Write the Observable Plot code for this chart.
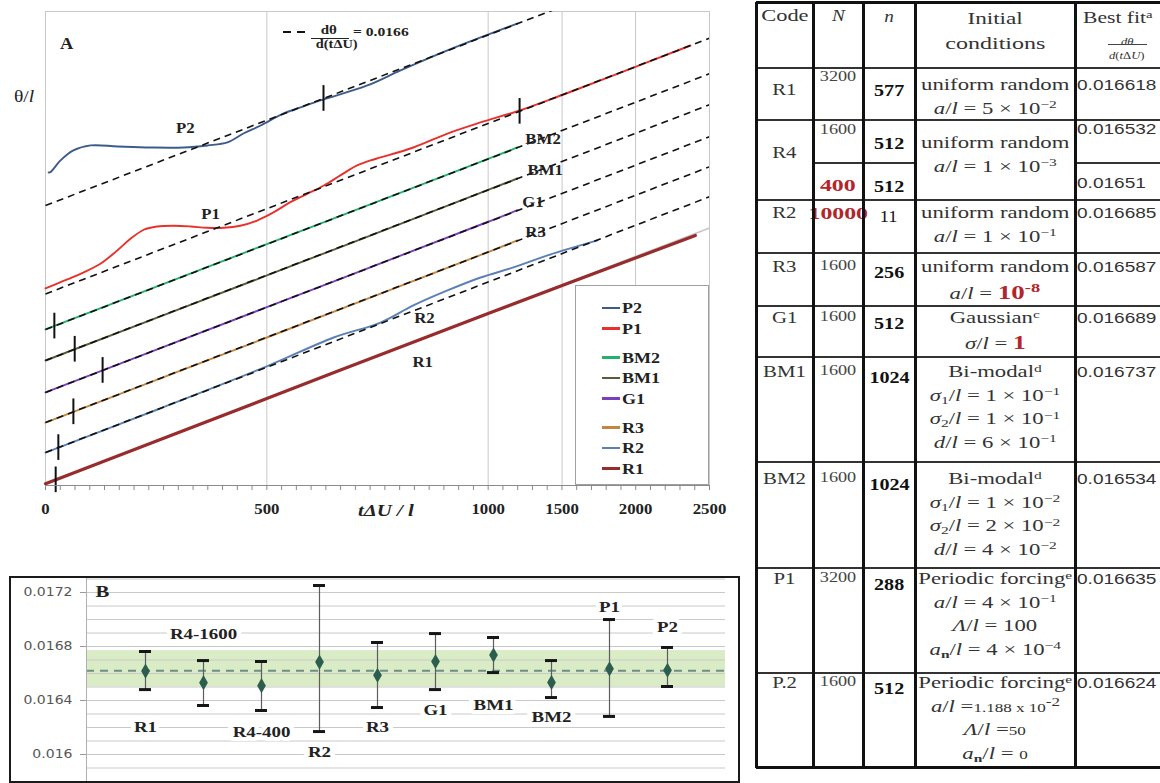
<!DOCTYPE html>
<html>
<head>
<meta charset="utf-8">
<script src="https://cdn.jsdelivr.net/npm/d3@7"></script>
<script src="https://cdn.jsdelivr.net/npm/@observablehq/plot@0.6"></script>
<style>
  body { margin: 0; background: #fff; }
  #fig { position: relative; width: 1160px; height: 783px; overflow: hidden;
         font-family: "Liberation Serif", serif; color: #222; background: #fff; }
  .abs { position: absolute; }
  #panelA { position: absolute; left: 0; top: 0; width: 720px; height: 520px; }
  #panelB { position: absolute; left: 9px; top: 576px; width: 731px; height: 207px;
            border: 2px solid #1a1a1a; box-sizing: border-box; background: #fff; }
  #panelA g[aria-label="x-axis tick label"] { font-size: 14px; font-weight: bold; }
  #panelB g[aria-label="y-axis tick label"] { font-family: "DejaVu Sans", sans-serif; font-size: 11.5px; fill: #555; }
  sup { font-size: 68%; line-height: 0; position: relative; top: -0.48em; vertical-align: baseline; }
  sub { font-size: 68%; line-height: 0; position: relative; top: 0.3em; vertical-align: baseline; }
  .red { color: #b3252a; font-weight: bold; }
</style>
</head>
<body>
<div id="fig">
  <div id="panelA"></div>
  <div id="panelB"></div>
</div>
<script>
// ---------------- Panel A: θ/l against tΔU/l ----------------
const seriesCodes  = ["P2", "P1", "BM2", "BM1", "G1", "R3", "R2", "R1"];
const seriesColors = ["#3d5c8a", "#e8312b", "#22b26b", "#5c5a38", "#7a3fbf", "#c5843f", "#5a80b5", "#982c2c"];
const fitSlope = 0.0166;                                   // dθ/d(tΔU)
const fitIntercept = [27.26, 18.65, 15.19, 12.17, 9.06, 6.13, 3.21, 0.17];
const onsetTime  = [628, 1071, 20, 66, 129, 63, 29, 23];   // start of the linear regime
const labelTime  = [316, 373, 1084, 1089, 1077, 1084, 856, 852];
const labelTheta = [34.76, 26.4, 33.69, 30.67, 27.56, 24.63, 16.26, 11.98];

// measured traces: [tΔU/l, θ/l]
const traceP2 = [[7,30.48],[11,30.51],[34,31.65],[63,32.62],[102,33.11],[163,33.01],[237,32.91],[312,32.91],[366,33.11],[411,33.40],[447,34.27],[486,35.05],[538,36.22],[576,36.81],[621,37.49],[727,38.95],[802,40.41],[908,42.36],[983,43.62],[1066,44.98]];
const traceP1 = [[0,19.2],[34,19.80],[79,20.61],[124,21.59],[162,22.88],[192,24.02],[222,24.90],[252,25.22],[290,25.29],[328,25.22],[365,25.09],[403,25.09],[440,25.29],[478,25.80],[516,26.61],[553,27.59],[591,28.40],[629,29.21],[666,30.19],[704,31.16],[734,31.65],[757,31.94],[831,32.91],[908,34.27],[983,35.35],[1071,36.51],[1170,38.07],[1283,39.92],[1457,42.84]];
const traceBM2 = [[0,15.19],[500,23.5],[1000,31.8],[1066,32.91]];
const traceBM1 = [[0,12.17],[500,20.45],[1000,28.78],[1066,29.89]];
const traceG1  = [[0,9.06],[500,17.36],[1000,25.68],[1066,26.8]];
const traceR3  = [[0,6.13],[500,14.41],[1000,22.73],[1066,23.86]];
const traceR2  = [[0,3.21],[250,7.35],[500,11.6],[651,14.41],[757,15.87],[831,17.53],[908,18.99],[983,20.25],[1057,21.23],[1134,22.40],[1247,23.86]];
const traceR1  = [[0,0.17],[500,8.47],[1000,16.75],[1468,24.34]];

const xTickAt     = [0, 500, 1000, 1167, 1333, 1500];
const xTickLabels = ["0", "500", "1000", "1500", "2000", "2500"];
const legendGroups = [["P2", "P1"], ["BM2", "BM1", "G1"], ["R3", "R2", "R1"]];

// ---------------- Panel B: best-fit slopes ----------------
const fitCodes = ["R1", "R4-1600", "R4-400", "R2", "R3", "G1", "BM1", "BM2", "P1", "P2"];
const bestFit  = [0.016618, 0.016532, 0.01651, 0.016685, 0.016587, 0.016689, 0.016737, 0.016534, 0.016635, 0.016624];
const fitHigh  = [0.016763, 0.016696, 0.016689, 0.017252, 0.01683, 0.016896, 0.016867, 0.016696, 0.017, 0.016793];
const fitLow   = [0.016481, 0.016363, 0.016326, 0.01617, 0.016348, 0.016481, 0.016607, 0.016422, 0.016282, 0.016504];
const fitLabelAt = [0.016207, 0.016889, 0.01617, 0.016015, 0.0162, 0.016333, 0.016363, 0.016281, 0.017089, 0.016941];
const meanFit = 0.01662;
const bandLow = 0.0165, bandHigh = 0.01677;
const bTicks = [0.016, 0.0164, 0.0168, 0.0172];

// ---------------- Table ----------------
const tableCode = ["R1", "R4", "R4", "R2", "R3", "G1", "BM1", "BM2", "P1", "P.2"];
const tableN    = [3200, 1600, 400, 10000, 1600, 1600, 1600, 1600, 3200, 1600];
const tableSmallN = [577, 512, 512, 11, 256, 512, 1024, 1024, 288, 512];
const tableConditions = [
  ["uniform random", "<i>a</i>/<i>l</i> = 5 × 10<sup>−2</sup>"],
  ["uniform random", "<i>a</i>/<i>l</i> = 1 × 10<sup>−3</sup>"],
  ["uniform random", "<i>a</i>/<i>l</i> = 1 × 10<sup>−1</sup>"],
  ["uniform random", "<i>a</i>/<i>l</i> = <span class='red' style='font-size:19px'>10<sup>-8</sup></span>"],
  ["Gaussian<sup>c</sup>", "<i>σ</i>/<i>l</i> = <span class='red' style='font-size:18px'>1</span>"],
  ["Bi-modal<sup>d</sup>", "<i>σ</i><sub>1</sub>/<i>l</i> = 1 × 10<sup>−1</sup>", "<i>σ</i><sub>2</sub>/<i>l</i> = 1 × 10<sup>−1</sup>", "<i>d</i>/<i>l</i> = 6 × 10<sup>−1</sup>"],
  ["Bi-modal<sup>d</sup>", "<i>σ</i><sub>1</sub>/<i>l</i> = 1 × 10<sup>−2</sup>", "<i>σ</i><sub>2</sub>/<i>l</i> = 2 × 10<sup>−2</sup>", "<i>d</i>/<i>l</i> = 4 × 10<sup>−2</sup>"],
  ["Periodic forcing<sup>e</sup>", "<i>a</i>/<i>l</i> = 4 × 10<sup>−1</sup>", "<i>Λ</i>/<i>l</i> = 100", "<i>a</i><sub><b>n</b></sub>/<i>l</i> = 4 × 10<sup>−4</sup>"],
  ["Periodic forcing<sup>e</sup>", "<i>a</i>/<i>l</i> =<span style='font-size:12px'>1.188 x 10<sup style='font-size:100%'>-2</sup></span>", "<i>Λ</i>/<i>l</i> =<span style='font-size:12px'>50</span>", "<i>a</i><sub><b>n</b></sub>/<i>l</i> = <span style='font-size:12px'>0</span>"]
];
const highlightedN = new Set([400, 10000]);

// ======================================================================
const fig = document.getElementById("fig");

// stretch Plot text horizontally about its own anchor
function widenText(svg, sx) {
  svg.querySelectorAll("text").forEach(t => {
    const tr = t.getAttribute("transform");
    if (tr) t.setAttribute("transform", tr + ` scale(${sx},1)`);
  });
}

// ---------- Panel A ----------
const traces = {P2: traceP2, P1: traceP1, BM2: traceBM2, BM1: traceBM1, G1: traceG1, R3: traceR3, R2: traceR2, R1: traceR1};
const series = seriesCodes.map((code, i) => ({
  code, color: seriesColors[i], b: fitIntercept[i], onset: onsetTime[i],
  lt: labelTime[i], lv: labelTheta[i], trace: traces[code], end: traces[code][traces[code].length - 1][0]
}));
const tMax = 1500;
const fitAt = (s, t) => s.b + fitSlope * t;
const xLabelOf = new Map(xTickAt.map((t, i) => [t, xTickLabels[i]]));
const minorTicks = d3.range(0, 46).map(i => i * tMax / 45);

const plotA = Plot.plot({
  width: 720, height: 520,
  marginLeft: 45, marginRight: 11, marginTop: 11, marginBottom: 35,
  style: {fontFamily: "Liberation Serif", background: "#fff", overflow: "visible"},
  x: {domain: [0, tMax]},
  y: {domain: [0, 46.15], axis: null},
  marks: [
    Plot.gridX(xTickAt.slice(1, -1), {stroke: "#c8c8c8", strokeOpacity: 1}),
    Plot.frame({stroke: "#c8c8c8"}),
    Plot.link(series.filter(s => s.code === "R1"), {
      x1: () => 0, y1: s => s.b, x2: () => tMax, y2: s => fitAt(s, tMax),
      stroke: "#c6c6c6", strokeWidth: 1.6
    }),
    ...series.slice().reverse().map(s => Plot.line(s.trace, {
      x: d => d[0], y: d => d[1], stroke: s.color,
      strokeWidth: s.code === "R1" ? 3.2 : 1.9, curve: "catmull-rom"
    })),
    Plot.link(series.filter(s => s.code !== "R1"), {
      x1: () => 0, y1: s => s.b, x2: () => tMax, y2: s => fitAt(s, tMax),
      stroke: "#111", strokeWidth: 1.6, strokeDasharray: "7,5", clip: true
    }),
    Plot.ruleX(series, {
      x: "onset", y1: s => fitAt(s, s.onset) - 1.25, y2: s => fitAt(s, s.onset) + 1.25,
      stroke: "#111", strokeWidth: 2
    }),
    Plot.ruleY([0], {stroke: "#8a8a8a"}),
    Plot.axisX({ticks: minorTicks, tickSize: 5, tickFormat: () => "", stroke: "#8a8a8a", label: null}),
    Plot.axisX({ticks: xTickAt, tickFormat: d => xLabelOf.get(d), tickSize: 0, tickPadding: 19,
                fontSize: 14, fontWeight: "bold", label: null}),
    Plot.text(series.filter(s => s.lt < s.end), {
      x: "lt", y: "lv", text: "code", fontSize: 14, fontWeight: "bold", fill: "#222"
    }),
    Plot.text(series.filter(s => s.lt >= s.end), {
      x: "lt", y: "lv", text: "code", textAnchor: "start", fontSize: 14, fontWeight: "bold", fill: "#222"
    })
  ]
});
widenText(plotA, 1.2);
document.getElementById("panelA").appendChild(plotA);

// generic positioned text (left edge or centre); cy is the visual centre of the glyphs
function put(html, o) {
  const lh = o.lh ?? 24;
  const cy = o.cy + 4;
  const d = document.createElement("div");
  d.className = "abs";
  const x0 = o.x0, w = (o.x1 ?? o.x0) - o.x0;
  d.style.cssText = `left:${x0}px;width:${w}px;top:${cy - lh / 2}px;height:${lh}px;line-height:${lh}px;` +
    `display:flex;justify-content:${o.left ? "flex-start" : "center"};white-space:nowrap;`;
  const s = document.createElement("span");
  s.innerHTML = html;
  s.style.cssText = `display:inline-block;transform:scaleX(${o.sx ?? 1});transform-origin:${o.left ? "0" : "50%"} 50%;` +
    `font:${o.font};color:${o.color ?? "#222"};`;
  d.appendChild(s);
  fig.appendChild(d);
  return d;
}
function box(x, y, w, h, css) {
  const d = document.createElement("div");
  d.className = "abs";
  d.style.cssText = `left:${x}px;top:${y}px;width:${w}px;height:${h}px;${css}`;
  fig.appendChild(d);
  return d;
}

// panel A annotations
put("A", {x0: 60, cy: 43, left: true, font: "bold 16px 'Liberation Serif'", sx: 1.15});
put("θ/<i>l</i>", {x0: 14, cy: 95, left: true, font: "17px 'Liberation Serif'", sx: 1.15});
put("<i>t</i><i>Δ</i><i>U</i> / <i>l</i>", {x0: 358, cy: 510, left: true, font: "bold italic 16px 'Liberation Serif'", sx: 1.3});
// slope key
const key = box(283, 30, 24, 4, "");
key.innerHTML = `<svg width="24" height="4" style="display:block"><line x1="0" y1="2" x2="23" y2="2" stroke="#111" stroke-width="2.2" stroke-dasharray="8,6"/></svg>`;
put("dθ", {x0: 310, x1: 348, cy: 31, font: "bold 12.5px 'Liberation Serif'", sx: 1.2});
box(311, 38, 38, 1, "background:#222;");
put("d(tΔU)", {x0: 308, x1: 365, cy: 46, font: "bold 11.5px 'Liberation Serif'", sx: 1.25});
put("= " + fitSlope, {x0: 353, cy: 32, left: true, font: "bold 13px 'Liberation Serif'", sx: 1.2});

// legend
const colorOf = new Map(seriesCodes.map((c, i) => [c, seriesColors[i]]));
box(575, 285, 134, 200, "border:1px solid #a0a0a0;background:#fff;box-sizing:border-box;");
{
  let cy = 308;
  legendGroups.forEach((g, gi) => {
    if (gi > 0) cy += 8.5;
    g.forEach(code => {
      box(602, cy - 1.3, 18, 2.6, `background:${colorOf.get(code)};`);
      put(code, {x0: 622, cy, left: true, font: "bold 15px 'Liberation Serif'", sx: 1.2});
      cy += 20.5;
    });
  });
}

// ---------- Panel B ----------
const points = fitCodes.map((code, i) => ({code, fit: bestFit[i], hi: fitHigh[i], lo: fitLow[i], at: fitLabelAt[i]}));
const gridVals = d3.range(159, 174).map(k => k / 10000);
const plotB = Plot.plot({
  width: 727, height: 203,
  marginLeft: 75, marginRight: 13, marginTop: 0, marginBottom: 0,
  style: {fontFamily: "Liberation Serif", background: "#fff", overflow: "visible"},
  x: {type: "band", domain: fitCodes, paddingInner: 0, paddingOuter: 0.5, axis: null},
  y: {domain: [0.0158, 0.017304]},
  marks: [
    Plot.rect([{lo: bandLow, hi: bandHigh}], {y1: "lo", y2: "hi", fill: "#d9ecc6"}),
    Plot.gridY(gridVals, {stroke: "#c9c9c9", strokeOpacity: 1}),
    Plot.ruleY([meanFit], {stroke: "#6d8d85", strokeWidth: 2, strokeDasharray: "8,6"}),
    Plot.axisY({ticks: bTicks, tickSize: 6, tickPadding: 8, tickFormat: d => String(d), stroke: "#999", label: null}),
    Plot.ruleX(points, {x: "code", y1: "lo", y2: "hi", stroke: "#5d5d5d", strokeWidth: 1.2}),
    Plot.tickY(points, {x: "code", y: "hi", stroke: "#161616", strokeWidth: 3, insetLeft: 23, insetRight: 23}),
    Plot.tickY(points, {x: "code", y: "lo", stroke: "#161616", strokeWidth: 3, insetLeft: 23, insetRight: 23}),
    Plot.dot(points, {x: "code", y: "fit", symbol: "diamond", r: 4.6, fill: "#2d5d4f", stroke: "none"}),
    Plot.text(points, {x: "code", y: "at", text: "code", fontSize: 15.5, fontWeight: "bold", fill: "#222",
                       stroke: "#fff", strokeWidth: 8, paintOrder: "stroke"}),
    Plot.text(["B"], {frameAnchor: "top-left", textAnchor: "start", lineAnchor: "top", dx: 9, dy: 6,
                      fontSize: 17, fontWeight: "bold", fill: "#222"})
  ]
});
widenText(plotB, 1.22);
const pb = document.getElementById("panelB");
pb.appendChild(plotB);
const axisLine = document.createElement("div");
axisLine.style.cssText = "position:absolute;left:75px;top:0;width:1px;height:203px;background:#b0b0b0;";
pb.appendChild(axisLine);

// ---------- Table ----------
const colX = [756, 813, 863, 915, 1075, 1160];
const blockTop = [68, 120, 200, 253, 306, 357, 462, 568, 673];
const tableBottom = 767;
const firstLineY = [84, 142, 212, 266, 317, 371, 478, 578, 682];
const lineStep = 23.5;
const serif = "'Liberation Serif'";

// header
put("Code", {x0: colX[0], x1: colX[1], cy: 15, font: `16px ${serif}`, sx: 1.4, color: "#333"});
put("<i>N</i>", {x0: colX[1], x1: colX[2], cy: 15, font: `16px ${serif}`, sx: 1.2, color: "#333"});
put("<i>n</i>", {x0: colX[2], x1: colX[3], cy: 16, font: `16px ${serif}`, sx: 1.2, color: "#333"});
put("Initial", {x0: colX[3], x1: colX[4], cy: 18, font: `16px ${serif}`, sx: 1.45, color: "#333"});
put("conditions", {x0: colX[3], x1: colX[4], cy: 43, font: `16px ${serif}`, sx: 1.5, color: "#333"});
put("Best fit<sup>a</sup>", {x0: colX[4], x1: colX[5], cy: 17, font: `16px ${serif}`, sx: 1.35, color: "#333"});
put("<i>dθ</i>", {x0: 1100, x1: 1154, cy: 38, lh: 12, font: `10.5px ${serif}`, sx: 1.2, color: "#333"});
box(1108, 44, 39, 1, "background:#444;");
put("<i>d</i>(<i>t</i>Δ<i>U</i>)", {x0: 1100, x1: 1154, cy: 52, lh: 12, font: `10.5px ${serif}`, sx: 1.2, color: "#333"});

// rows
let r = 0;
blockTop.forEach((top, bi) => {
  const y0 = firstLineY[bi];
  const isSplit = bi === 1;
  const codeY = isSplit ? 152 : (bi === 0 ? 89 : y0);
  put(tableCode[r], {x0: colX[0], x1: colX[1], cy: codeY, font: `16px ${serif}`, sx: 1.3, color: "#333"});
  tableConditions[bi].forEach((html, k) => {
    put(html, {x0: colX[3], x1: colX[4], cy: y0 + k * lineStep, font: `16px ${serif}`, sx: 1.42, color: "#333"});
  });
  const subRowsY = isSplit ? [[130, 141, 129], [184, 184, 183]] : [[bi === 0 ? 77 : y0, y0 + 4, y0 + 1]];
  subRowsY.forEach(([nY, smallY, fitY]) => {
    const Nv = tableN[r];
    if (highlightedN.has(Nv)) {
      put(String(Nv), {x0: colX[1], x1: colX[2], cy: nY, font: `bold 17px ${serif}`, sx: 1.4, color: "#b3252a"});
    } else {
      put(String(Nv), {x0: colX[1], x1: colX[2], cy: nY, font: `14px ${serif}`, sx: 1.3, color: "#444"});
    }
    const nv = tableSmallN[r];
    put(String(nv), {x0: colX[2], x1: colX[3], cy: smallY,
                     font: nv >= 100 ? `bold 17.5px ${serif}` : `16px ${serif}`, sx: 1.15, color: "#111"});
    put(String(bestFit[r]), {x0: colX[4] + 2, cy: fitY, left: true, font: "14px 'Liberation Sans'", sx: 1.36, color: "#333"});
    r++;
  });
});

// grid lines of the table
const edgeTop = 2;
box(colX[0], edgeTop - 1, colX[5] - colX[0], 2.5, "background:#111;");
[68, ...blockTop.slice(1)].forEach(y => box(colX[0], y - 1, colX[5] - colX[0], 2, "background:#333;"));
box(colX[1], 163 - 1, colX[3] - colX[1], 2, "background:#333;");
box(colX[4], 163 - 1, colX[5] - colX[4], 2, "background:#333;");
box(colX[0], tableBottom - 1, colX[5] - colX[0], 3, "background:#111;");
colX.slice(0, 5).forEach(x => box(x - 1.5, edgeTop, 3, tableBottom - edgeTop + 1, "background:#111;"));
</script>
</body>
</html>
